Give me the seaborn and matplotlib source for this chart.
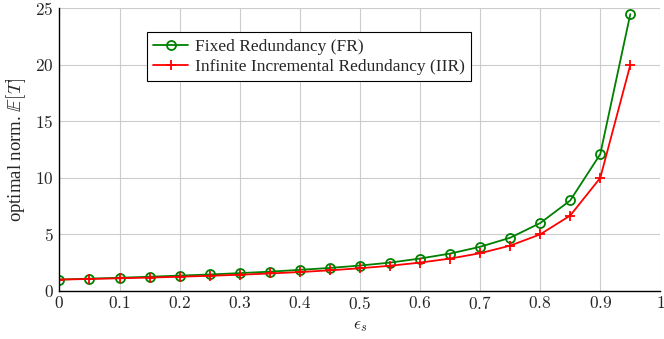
import matplotlib
matplotlib.use("Agg")
import matplotlib.pyplot as plt
import seaborn as sns
import pandas as pd

eps = [0.0, 0.05, 0.1, 0.15, 0.2, 0.25, 0.3, 0.35, 0.4, 0.45,
       0.5, 0.55, 0.6, 0.65, 0.7, 0.75, 0.8, 0.85, 0.9, 0.95]
fr = [1.0, 1.08, 1.16, 1.25, 1.35, 1.45, 1.57, 1.7, 1.86, 2.03,
      2.24, 2.5, 2.86, 3.3, 3.9, 4.7, 6.0, 8.0, 12.1, 24.5]
iir = [1.0, 1.053, 1.111, 1.176, 1.25, 1.333, 1.429, 1.538, 1.667, 1.818,
       2.0, 2.222, 2.5, 2.857, 3.333, 4.0, 5.0, 6.667, 10.0, 20.0]
labels = ["Fixed Redundancy (FR)", "Infinite Incremental Redundancy (IIR)"]
xticks = [0, 0.1, 0.2, 0.3, 0.4, 0.5, 0.6, 0.7, 0.8, 0.9, 1]
yticks = [0, 5, 10, 15, 20, 25]

sns.set_theme(style="whitegrid")
plt.rcParams["font.family"] = ["Liberation Serif", "DejaVu Serif"]
plt.rcParams["mathtext.fontset"] = "cm"

df = pd.DataFrame({
    "eps": eps * 2,
    "val": fr + iir,
    "series": [labels[0]] * len(eps) + [labels[1]] * len(eps),
})

fig = plt.figure(figsize=(6.64, 3.39), dpi=100)
ax = fig.add_axes([0.0895, 0.142, 0.905, 0.833])

palette = {labels[0]: "#008000", labels[1]: "#ff0000"}
sub = df[df.series == labels[0]]
sns.lineplot(data=sub, x="eps", y="val", ax=ax, color=palette[labels[0]],
             marker="o", markersize=6.5, markerfacecolor="none",
             markeredgecolor=palette[labels[0]], markeredgewidth=1.3,
             linewidth=1.3, label=labels[0])
sub = df[df.series == labels[1]]
sns.lineplot(data=sub, x="eps", y="val", ax=ax, color=palette[labels[1]],
             marker="+", markersize=7, markeredgewidth=1.3,
             markeredgecolor=palette[labels[1]],
             linewidth=1.3, label=labels[1])

ax.set_xlim(0, 1)
ax.set_ylim(0, 25)
ax.set_xticks(xticks)
ax.set_yticks(yticks)
ax.set_xticklabels([f"${t:g}$" for t in xticks])
ax.set_yticklabels([f"${t:g}$" for t in yticks])
ax.tick_params(axis="both", labelsize=12.5, direction="in", length=3,
               color="#999999", pad=4)
ax.grid(True, color="#cccccc", linewidth=0.8)
for s in ["top", "right"]:
    ax.spines[s].set_visible(False)
for s in ["left", "bottom"]:
    ax.spines[s].set_visible(True)
    ax.spines[s].set_color("black")
    ax.spines[s].set_linewidth(1.0)

ax.set_xlabel(r"$\epsilon_s$", fontsize=12.5, labelpad=3)
ax.set_ylabel(r"optimal norm. $\mathbb{E}[T]$", fontsize=13.5, labelpad=5)

leg = ax.legend(loc="upper left", bbox_to_anchor=(0.146, 0.915),
                fontsize=12.5, frameon=True, fancybox=False, framealpha=1,
                edgecolor="black", borderpad=0.35, labelspacing=0.25,
                handlelength=2.0, handletextpad=0.4, borderaxespad=0)
leg.get_frame().set_linewidth(0.8)

fig.savefig("out.png", dpi=100)
